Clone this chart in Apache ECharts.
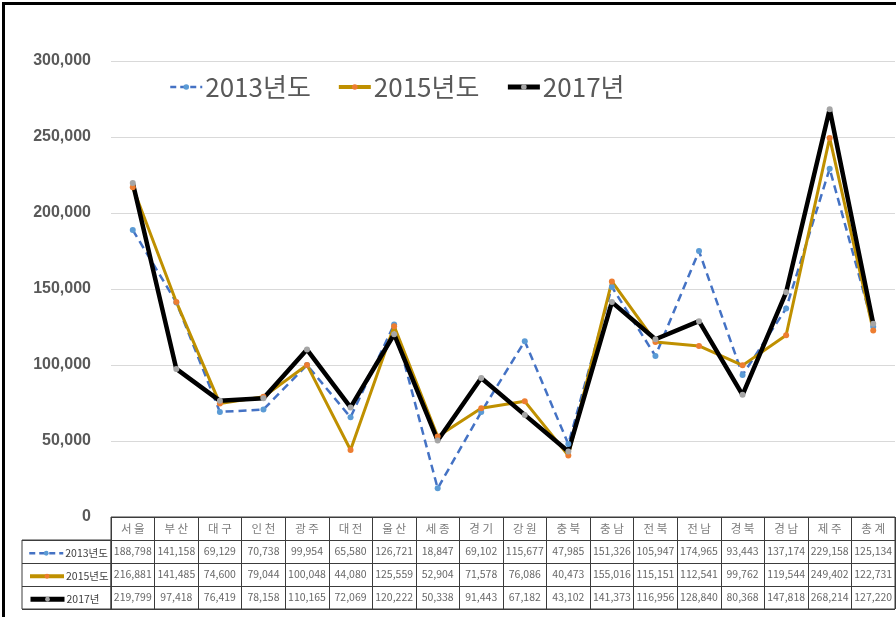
<!DOCTYPE html>
<html>
<head>
<meta charset="utf-8">
<script src="https://cdn.jsdelivr.net/npm/echarts@6/dist/echarts.min.js"></script>
<style>
html,body{margin:0;padding:0;background:#fff;}
#wrap{position:relative;width:896px;height:617px;overflow:hidden;}
#chart{position:absolute;left:0;top:0;width:896px;height:617px;}
#frame{position:absolute;left:2px;top:2px;width:900px;height:620px;border-left:3px solid #000;border-top:3px solid #000;pointer-events:none;}
</style>
</head>
<body>
<div id="wrap"><div id="chart"></div><div id="frame"></div></div>
<script>
const categories = ['서울','부산','대구','인천','광주','대전','울산','세종','경기','강원','충북','충남','전북','전남','경북','경남','제주','총계'];
const seriesNames = ['2013년도','2015년도','2017년'];
const s2013 = [188798,141158,69129,70738,99954,65580,126721,18847,69102,115677,47985,151326,105947,174965,93443,137174,229158,125134];
const s2015 = [216881,141485,74600,79044,100048,44080,125559,52904,71578,76086,40473,155016,115151,112541,99762,119544,249402,122731];
const s2017 = [219799,97418,76419,78158,110165,72069,120222,50338,91443,67182,43102,141373,116956,128840,80368,147818,268214,127220];
const yTicks = [0,50000,100000,150000,200000,250000,300000];

const fmt = v => String(v).replace(/\B(?=(\d{3})+(?!\d))/g, ',');
const FONT = "'Noto Sans CJK KR','Noto Sans',sans-serif";
const allSeries = [s2013, s2015, s2017];
const rowKeys = ['hdr'].concat(seriesNames);
const legendLine = [
  {color: '#4472C4', width: 2.5, type: [6, 4]},
  {color: '#BF9000', width: 4, type: 'solid'},
  {color: '#000000', width: 5, type: 'solid'}
];

// table cell data (header + values)
const tableData = [];
categories.forEach((c, j) => {
  tableData.push({value: [c, 'hdr'], label: {formatter: c.split('').join(' '), color: '#595959', fontSize: 11.5}});
  allSeries.forEach((arr, i) => {
    tableData.push({value: [c, seriesNames[i], arr[j]]});
  });
});

const topLegend = {
  data: seriesNames.map((n, i) => ({name: n, lineStyle: legendLine[i]})),
  left: 164, top: 69,
  itemWidth: 32, itemHeight: 7, itemGap: 26,
  textStyle: {fontSize: 26, color: '#595959', fontFamily: FONT, padding: [0,0,0,-2]}
};
const rowLegends = seriesNames.map((n, i) => ({
  data: [{name: n, lineStyle: legendLine[i]}],
  left: 23, top: 543 + i * 23,
  itemWidth: 34, itemHeight: 6, itemGap: 0,
  textStyle: {fontSize: 10.5, color: '#404040', fontFamily: FONT, padding: [0,0,0,-3]}
}));

const chart = echarts.init(document.getElementById('chart'), null, {renderer: 'canvas'});
chart.setOption({
  animation: false,
  backgroundColor: '#fff',
  textStyle: {fontFamily: FONT},
  legend: [topLegend].concat(rowLegends),
  grid: [
    {left: 111, width: 784, top: 61, height: 456, containLabel: false},
    {left: 111, width: 784, top: 517, height: 92, show: true, borderColor: '#3c3c3c', borderWidth: 1},
    {left: 22, width: 89, top: 540, height: 69, show: true, borderColor: '#3c3c3c', borderWidth: 1}
  ],
  xAxis: [
    {gridIndex: 0, type: 'category', data: categories, boundaryGap: true,
     axisLine: {show: false}, axisTick: {show: false}, axisLabel: {show: false}, splitLine: {show: false}},
    {gridIndex: 1, type: 'category', data: categories, boundaryGap: true,
     axisLine: {show: false}, axisTick: {show: false}, axisLabel: {show: false, interval: 0},
     splitLine: {show: true, interval: 0, lineStyle: {color: '#3c3c3c', width: 1}}},
    {gridIndex: 2, type: 'value', show: false}
  ],
  yAxis: [
    {gridIndex: 0, type: 'value', min: yTicks[0], max: yTicks[yTicks.length - 1], interval: yTicks[1] - yTicks[0],
     axisLine: {show: false}, axisTick: {show: false},
     axisLabel: {formatter: v => fmt(v), fontSize: 16, fontWeight: 'bold', color: '#595959', margin: 20, fontFamily: "'Liberation Sans','Noto Sans',sans-serif"},
     splitLine: {lineStyle: {color: '#d9d9d9', width: 1}}},
    {gridIndex: 1, type: 'category', data: rowKeys, inverse: true,
     axisLine: {show: false}, axisTick: {show: false}, axisLabel: {show: false, interval: 0},
     splitLine: {show: true, interval: 0, lineStyle: {color: '#3c3c3c', width: 1}}},
    {gridIndex: 2, type: 'category', data: seriesNames, inverse: true,
     axisLine: {show: false}, axisTick: {show: false}, axisLabel: {show: false, interval: 0},
     splitLine: {show: true, interval: 0, lineStyle: {color: '#3c3c3c', width: 1}}}
  ],
  series: [
    {name: seriesNames[0], type: 'line', data: s2013, xAxisIndex: 0, yAxisIndex: 0,
     symbol: 'circle', symbolSize: 6,
     lineStyle: {color: '#4472C4', width: 2.5, type: [8, 5]},
     itemStyle: {color: '#5B9BD5'}},
    {name: seriesNames[1], type: 'line', data: s2015, xAxisIndex: 0, yAxisIndex: 0,
     symbol: 'circle', symbolSize: 6,
     lineStyle: {color: '#BF9000', width: 3},
     itemStyle: {color: '#ED7D31'}},
    {name: seriesNames[2], type: 'line', data: s2017, xAxisIndex: 0, yAxisIndex: 0,
     symbol: 'circle', symbolSize: 6,
     lineStyle: {color: '#000000', width: 4.5},
     itemStyle: {color: '#A5A5A5'}},
    {name: 'table', type: 'scatter', xAxisIndex: 1, yAxisIndex: 1, silent: true,
     symbol: 'rect', symbolSize: 1, itemStyle: {color: 'rgba(0,0,0,0)'},
     label: {show: true, position: 'inside', color: '#404040', fontSize: 10.5,
       fontFamily: FONT,
       formatter: p => fmt(p.value[2])},
     data: tableData}
  ]
});
</script>
</body>
</html>
